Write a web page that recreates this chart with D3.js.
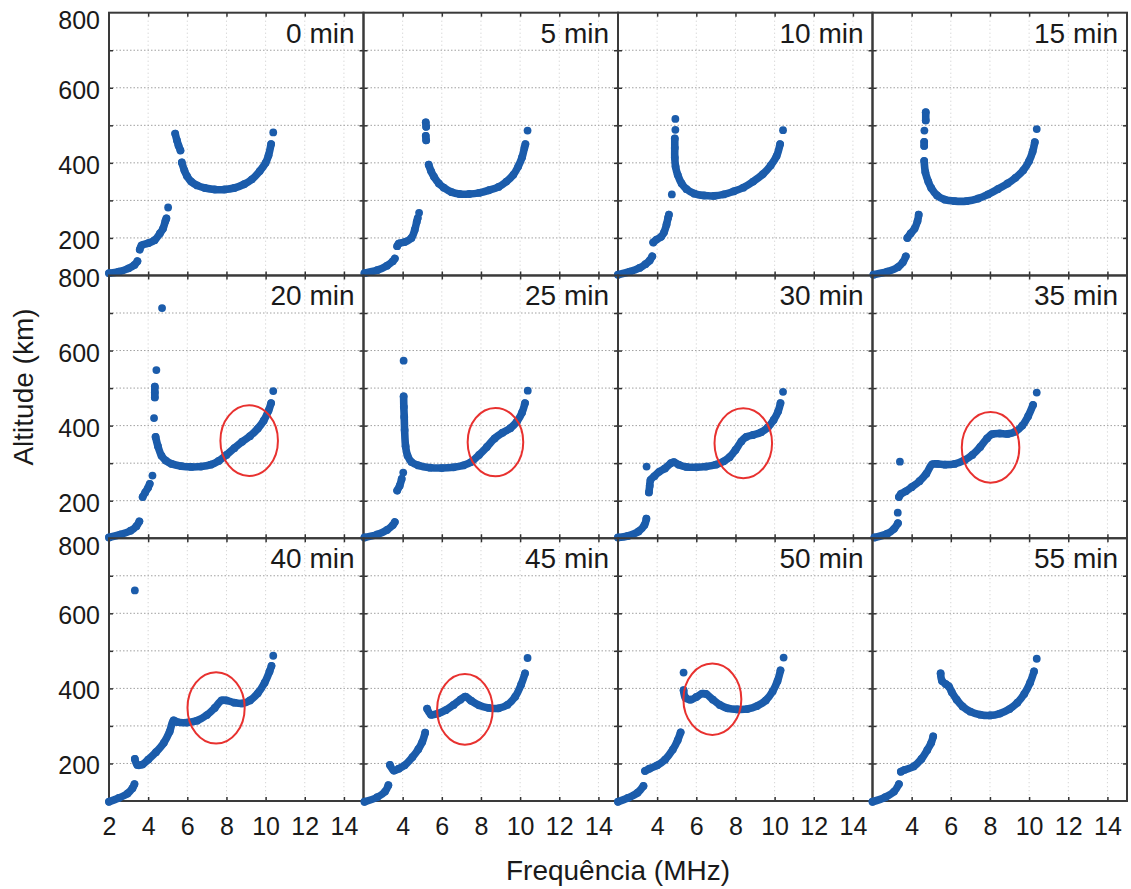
<!DOCTYPE html>
<html>
<head>
<meta charset="utf-8">
<script src="https://cdn.jsdelivr.net/npm/d3@7/dist/d3.min.js"></script>
<style>
  html, body { margin: 0; padding: 0; background: #fff; }
  svg { display: block; }
  text { font-family: "Liberation Sans", Arial, sans-serif; fill: #1a1a1a; }
</style>
</head>
<body>
<svg id="chart" width="1131" height="889"></svg>
<script>
// ---------------- DATA ----------------
const panelLabels = ["0 min","5 min","10 min","15 min","20 min","25 min","30 min","35 min","40 min","45 min","50 min","55 min"];
const xTicks = [2,4,6,8,10,12,14];
const yTickLabels = [200,400,600,800];
const yGrid = [200,300,400,500,600,700];

// each trace: list of segments [[freqMHz, altitudeKm], ...]; single-point segments are isolated echoes
const trace0 = [
  [[2.0,106],[2.5,110],[3.0,119],[3.3,128],[3.45,138]],
  [[3.57,169],[3.66,180],[4.0,186],[4.33,194],[4.6,212],[4.76,225],[4.88,245],[4.93,252]],
  [[5.02,281]],
  [[5.38,478],[5.47,460],[5.55,446],[5.65,433]],
  [[5.72,401],[5.85,380],[5.98,365],[6.2,350],[6.5,340],[6.9,333],[7.4,329],[7.9,329],[8.4,333],[8.9,343],[9.3,356],[9.7,378],[10.0,400],[10.15,420],[10.28,450]],
  [[10.39,481]]
];
const trace5 = [
  [[2.05,106],[2.7,114],[3.2,126],[3.5,138],[3.6,145]],
  [[3.72,178],[3.8,185],[4.1,189],[4.45,200],[4.62,222],[4.72,243],[4.77,253]],
  [[4.84,267]],
  [[5.18,508],[5.2,496]],
  [[5.18,472],[5.2,460]],
  [[5.33,395],[5.45,378],[5.6,363],[5.85,345],[6.1,334],[6.5,322],[6.9,317],[7.4,317],[7.9,320],[8.4,327],[8.9,336],[9.3,350],[9.65,368],[9.9,390],[10.1,415],[10.22,440],[10.27,450]],
  [[10.38,486]]
];
const trace10 = [
  [[2.0,102],[2.6,110],[3.1,120],[3.4,130],[3.62,140],[3.75,151]],
  [[3.8,188],[3.95,195],[4.2,203],[4.35,215],[4.48,236],[4.56,254],[4.6,262]],
  [[4.75,316]],
  [[4.93,517]],
  [[4.93,488]],
  [[4.9,465],[4.9,440],[4.9,414],[4.94,390],[5.05,368],[5.25,345],[5.5,330],[5.9,318],[6.4,313],[6.9,312],[7.4,316],[7.9,324],[8.4,334],[8.9,350],[9.4,370],[9.8,393],[10.1,418],[10.28,450]],
  [[10.43,487]]
];
const trace15 = [
  [[2.05,102],[2.75,110],[3.3,122],[3.55,135],[3.7,151]],
  [[3.78,200],[3.95,212],[4.15,225],[4.3,245],[4.36,262]],
  [[4.72,535],[4.72,513]],
  [[4.65,486]],
  [[4.64,456],[4.64,445]],
  [[4.64,405],[4.7,375],[4.85,350],[5.0,333],[5.3,313],[5.7,302],[6.2,298],[6.8,298],[7.4,305],[7.9,316],[8.4,330],[8.9,345],[9.3,360],[9.7,380],[10.0,405],[10.18,430],[10.29,455]],
  [[10.39,490]]
];
const trace20 = [
  [[2.0,102],[2.6,110],[3.1,120],[3.4,132],[3.55,145]],
  [[3.72,210],[3.85,222],[4.0,235],[4.08,245]],
  [[4.22,267]],
  [[4.71,713]],
  [[4.42,548]],
  [[4.34,504],[4.34,488],[4.34,475]],
  [[4.3,420]],
  [[4.38,370],[4.5,345],[4.68,320],[4.9,307],[5.2,298],[5.7,292],[6.2,290],[6.7,291],[7.2,296],[7.6,306],[8.0,322],[8.4,340],[8.8,357],[9.2,372],[9.6,392],[9.9,413],[10.15,440],[10.28,460]],
  [[10.39,492]]
];
const trace25 = [
  [[2.05,102],[2.7,110],[3.2,122],[3.5,135],[3.6,143]],
  [[3.72,227],[3.85,240],[3.95,258]],
  [[4.03,275]],
  [[4.05,573]],
  [[4.05,478],[4.06,450],[4.08,423],[4.1,388],[4.15,345],[4.25,320],[4.45,303],[4.8,294],[5.4,288],[6.0,287],[6.6,289],[7.1,294],[7.5,303],[7.9,322],[8.3,343],[8.7,366],[9.1,381],[9.5,393],[9.85,412],[10.1,435],[10.25,460]],
  [[10.39,493]]
];
const trace30 = [
  [[2.0,102],[2.5,106],[3.05,118],[3.35,135],[3.45,152]],
  [[3.46,291]],
  [[3.58,222],[3.62,240],[3.66,255],[3.85,265],[4.1,277],[4.4,286],[4.7,300],[4.85,303],[5.1,296],[5.5,290],[6.0,289],[6.5,291],[7.0,296],[7.4,305],[7.7,316],[8.0,335],[8.3,358],[8.55,370],[8.9,375],[9.3,382],[9.65,395],[9.95,415],[10.18,438],[10.3,460]],
  [[10.43,490]]
];
const trace35 = [
  [[2.1,102],[2.75,112],[3.1,125],[3.3,140]],
  [[3.29,168]],
  [[3.4,304]],
  [[3.35,210],[3.45,218],[3.7,225],[4.0,236],[4.4,252],[4.75,272],[5.05,297],[5.3,298],[5.7,296],[6.2,298],[6.7,308],[7.1,322],[7.5,343],[7.85,366],[8.1,377],[8.5,379],[8.9,378],[9.3,384],[9.65,400],[9.95,425],[10.2,455]],
  [[10.39,488]]
];
const trace40 = [
  [[2.0,98],[2.5,108],[2.95,120],[3.2,134],[3.3,145]],
  [[3.32,661]],
  [[3.32,212],[3.45,196],[3.7,197],[4.0,210],[4.4,230],[4.8,255],[5.1,285],[5.3,315],[5.5,310],[6.0,309],[6.5,314],[7.0,329],[7.4,348],[7.75,368],[8.0,368],[8.4,362],[8.8,360],[9.2,368],[9.6,387],[9.95,415],[10.2,445],[10.3,460]],
  [[10.39,487]]
];
const trace45 = [
  [[2.05,98],[2.7,110],[3.1,125],[3.27,142]],
  [[3.35,196],[3.55,181],[3.8,186],[4.1,195],[4.5,217],[4.8,238],[5.0,257],[5.15,282]],
  [[5.25,346],[5.45,330],[5.8,333],[6.2,342],[6.6,356],[6.95,370],[7.2,378],[7.5,367],[7.9,355],[8.4,348],[8.9,347],[9.35,356],[9.75,378],[10.05,410],[10.25,440]],
  [[10.38,481]]
];
const trace50 = [
  [[2.0,98],[2.5,108],[3.0,122],[3.3,140]],
  [[3.38,180],[3.6,186],[4.0,195],[4.4,210],[4.8,237],[5.05,262],[5.2,283]],
  [[5.35,442]],
  [[5.35,395],[5.45,375],[5.7,370],[6.0,377],[6.3,386],[6.5,385],[6.85,370],[7.2,356],[7.6,347],[8.1,344],[8.6,345],[9.1,353],[9.55,368],[9.9,392],[10.15,420],[10.3,448]],
  [[10.46,482]]
];
const trace55 = [
  [[2.0,98],[2.65,110],[3.1,125],[3.35,145]],
  [[3.45,178],[3.65,183],[4.1,192],[4.5,212],[4.8,236],[5.0,255],[5.1,272]],
  [[5.48,440],[5.55,420],[5.75,411],[5.9,405],[6.05,390],[6.3,370],[6.6,352],[7.0,338],[7.5,330],[8.0,328],[8.5,333],[9.0,345],[9.4,362],[9.75,385],[10.05,415],[10.25,445]],
  [[10.39,479]]
];
const traces = [trace0,trace5,trace10,trace15,trace20,trace25,trace30,trace35,trace40,trace45,trace50,trace55];

// highlighted regions: panel index, centre (MHz, km), half-widths (MHz, km)
const highlightPanel = [4,5,6,7,8,9,10];
const highlightFreq  = [9.16,8.74,8.40,8.03,7.47,7.18,6.82];
const highlightAlt   = [360,356,353,342,348,344,371];
const highlightRFreq = [1.47,1.42,1.47,1.47,1.46,1.42,1.48];
const highlightRAlt  = [94,91,93,94,95,94,95];

// ---------------- LAYOUT ----------------
const svg = d3.select("#chart");
const gridLeft = 109, gridRight = 1127, gridTop = 12.7, gridBottom = 801;
const nCols = 4, nRows = 3;
const pw = (gridRight - gridLeft) / nCols;
const ph = (gridBottom - gridTop) / nRows;

const x = d3.scaleLinear().domain([2,15]).range([0,pw]);
const y = d3.scaleLinear().domain([100,800]).range([ph,0]);

const dotColor = "#1b5cab";
const line = d3.line().x(d => x(d[0])).y(d => y(d[1])).curve(d3.curveCatmullRom.alpha(0.5));

const panels = [];
traces.forEach((tr, i) => {
  const col = i % nCols, row = Math.floor(i / nCols);
  const g = svg.append("g").attr("transform", `translate(${gridLeft + col*pw},${gridTop + row*ph})`);
  panels.push(g);

  // grid
  g.append("g").selectAll("line").data(d3.range(4,15,2)).join("line")
    .attr("x1", d => x(d)).attr("x2", d => x(d)).attr("y1", 0).attr("y2", ph)
    .attr("stroke", "#cacaca").attr("stroke-width", 1).attr("stroke-dasharray", "1,3");
  g.append("g").selectAll("line").data(yGrid).join("line")
    .attr("x1", 0).attr("x2", pw).attr("y1", d => y(d)).attr("y2", d => y(d))
    .attr("stroke", "#a0a0a0").attr("stroke-width", 1).attr("stroke-dasharray", "1.5,2");

  // inward ticks on all sides
  const tickFmt = () => "";
  g.append("g").attr("transform", `translate(0,${ph})`).call(d3.axisBottom(x).tickValues(d3.range(4,15,2)).tickSize(-4).tickFormat(tickFmt)).call(s => s.select(".domain").remove());
  g.append("g").call(d3.axisTop(x).tickValues(d3.range(4,15,2)).tickSize(-4).tickFormat(tickFmt)).call(s => s.select(".domain").remove());
  g.append("g").call(d3.axisLeft(y).tickValues(d3.range(200,800,100)).tickSize(-4).tickFormat(tickFmt)).call(s => s.select(".domain").remove());
  g.append("g").attr("transform", `translate(${pw},0)`).call(d3.axisRight(y).tickValues(d3.range(200,800,100)).tickSize(-4).tickFormat(tickFmt)).call(s => s.select(".domain").remove());
  g.selectAll(".tick line").attr("stroke", "#333").attr("stroke-width", 1.5);

  // frame
  g.append("rect").attr("x", 0).attr("y", 0).attr("width", pw).attr("height", ph)
    .attr("fill", "none").attr("stroke", "#3a3a3a").attr("stroke-width", 2);

  // panel label
  g.append("text").attr("x", pw - 9).attr("y", 30).attr("text-anchor", "end")
    .style("font-size", "28px").text(panelLabels[i]);

  // bottom tick labels
  if (row === nRows - 1) {
    const ax = g.append("g").attr("transform", `translate(0,${ph})`)
      .call(d3.axisBottom(x).tickValues(col === 0 ? xTicks : xTicks.slice(1)).tickSize(0).tickPadding(16));
    ax.select(".domain").remove();
    ax.selectAll("text").style("font-size", "25px").style("font-family", "'Liberation Sans', Arial, sans-serif").attr("fill", "#1a1a1a");
  }
  // left tick labels
  if (col === 0) {
    const ay = g.append("g")
      .call(d3.axisLeft(y).tickValues(yTickLabels).tickSize(0).tickPadding(9));
    ay.select(".domain").remove();
    ay.selectAll("text").style("font-size", "25px").style("font-family", "'Liberation Sans', Arial, sans-serif").attr("fill", "#1a1a1a")
      .attr("dy", d => d === 800 ? (row === 1 ? "0.45em" : "0.65em") : "0.42em");
  }
});

// data traces drawn on top of frames
traces.forEach((tr, i) => {
  const g = panels[i];
  const dg = g.append("g");
  dg.selectAll("path.seg").data(tr.filter(s => s.length > 1)).join("path")
    .attr("class", "seg").attr("d", line)
    .attr("fill", "none").attr("stroke", dotColor).attr("stroke-width", 7.6)
    .attr("stroke-linecap", "round").attr("stroke-linejoin", "round");
  dg.selectAll("circle").data(tr.flat()).join("circle")
    .attr("cx", d => x(d[0])).attr("cy", d => y(d[1])).attr("r", 3.9)
    .attr("fill", dotColor);
});

// highlight ellipses
highlightPanel.forEach((p, k) => {
  panels[p].append("ellipse")
    .attr("cx", x(highlightFreq[k])).attr("cy", y(highlightAlt[k]))
    .attr("rx", x(2 + highlightRFreq[k]) - x(2))
    .attr("ry", y(100) - y(100 + highlightRAlt[k]))
    .attr("fill", "none").attr("stroke", "#e8312f").attr("stroke-width", 2);
});

// axis titles
svg.append("text").attr("x", (gridLeft + gridRight) / 2).attr("y", 880)
  .attr("text-anchor", "middle").style("font-size", "28px").text("Frequência (MHz)");
svg.append("text").attr("transform", "translate(33,387) rotate(-90)")
  .attr("text-anchor", "middle").style("font-size", "28px").text("Altitude (km)");
</script>
</body>
</html>
